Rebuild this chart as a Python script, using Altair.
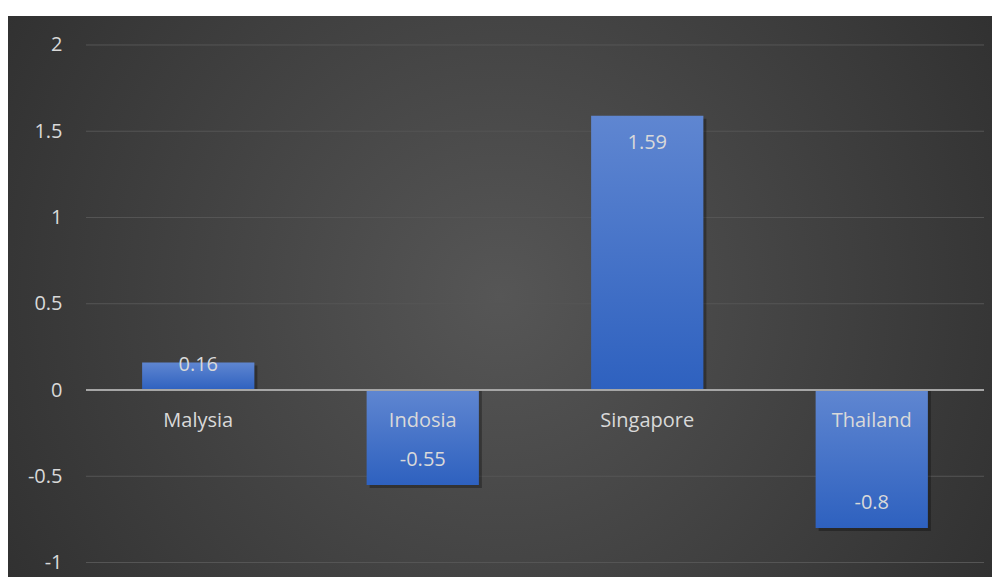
import altair as alt
import pandas as pd

countries = ["Malysia", "Indosia", "Singapore", "Thailand"]
values = [0.16, -0.55, 1.59, -0.8]
y_ticks = [-1, -0.5, 0, 0.5, 1, 1.5, 2]

df = pd.DataFrame({"country": countries, "value": values})
grid_df = pd.DataFrame({"tick": y_ticks})

W, H = 984, 561
FONT = "Open Sans"
TXT = "#d9d9d9"

yscale = alt.Scale(domain=[-1.084, 2.168], nice=False, zero=False)
xscale = alt.Scale(domain=countries, range=[78, 976], paddingInner=0.5, paddingOuter=0.25)

base = alt.Chart(df)

bg = alt.Chart(pd.DataFrame({"a": [0]})).mark_rect(
    fill={"gradient": "radial", "x1": 0.5, "y1": 0.5, "r1": 0, "x2": 0.5, "y2": 0.5, "r2": 0.75,
          "stops": [{"offset": 0, "color": "#565656"}, {"offset": 1, "color": "#262626"}]}
).encode(x=alt.value(0), x2=alt.value(W), y=alt.value(0), y2=alt.value(H))

grid = alt.Chart(grid_df).mark_rule(color="#555555", strokeWidth=1).encode(
    y=alt.Y("tick:Q", scale=yscale,
            axis=alt.Axis(values=y_ticks, offset=-78, labelPadding=24, domain=False,
                          ticks=False, grid=False, title=None, labelFontSize=20,
                          labelFont=FONT, labelColor=TXT, zindex=1,
                          labelExpr="'' + datum.value")),
    x=alt.value(78), x2=alt.value(976),
)

shadow = base.mark_bar(color="black", opacity=0.3).encode(
    x=alt.X("country:N", scale=xscale, axis=None, sort=countries),
    y=alt.Y("value:Q", scale=yscale),
    y2=alt.datum(0),
    xOffset=alt.value(3), yOffset=alt.value(3),
)

bars = base.mark_bar(
    fill={"gradient": "linear", "x1": 0, "y1": 0, "x2": 0, "y2": 1,
          "stops": [{"offset": 0, "color": "#5f86d1"}, {"offset": 1, "color": "#2e61bf"}]}
).encode(
    x=alt.X("country:N", scale=xscale, axis=None, sort=countries),
    y=alt.Y("value:Q", scale=yscale),
    y2=alt.datum(0),
)

zero = alt.Chart(pd.DataFrame({"z": [0]})).mark_rule(color="#a6a6a6", strokeWidth=2).encode(
    y=alt.Y("z:Q", scale=yscale),
    x=alt.value(78), x2=alt.value(976),
)

cat_labels = base.transform_calculate(zero="0").mark_text(
    font=FONT, fontSize=20, color=TXT, baseline="middle", dy=31).encode(
    x=alt.X("country:N", scale=xscale, sort=countries),
    y=alt.Y("zero:Q", scale=yscale),
    text="country:N",
)

lab = base.transform_calculate(
    lab="'' + datum.value",
    ly="datum.value < 0 ? datum.value : (datum.value < 0.3 ? 0 : datum.value)",
)
val_up = lab.transform_filter("datum.value >= 0.3").mark_text(
    font=FONT, fontSize=20, color=TXT, baseline="middle", dy=27).encode(
    x=alt.X("country:N", scale=xscale, sort=countries),
    y=alt.Y("ly:Q", scale=yscale),
    text="lab:N",
)
val_dn = lab.transform_filter("datum.value < 0.3").mark_text(
    font=FONT, fontSize=20, color=TXT, baseline="middle", dy=-25).encode(
    x=alt.X("country:N", scale=xscale, sort=countries),
    y=alt.Y("ly:Q", scale=yscale),
    text="lab:N",
)

chart = alt.layer(bg, grid, shadow, bars, zero, cat_labels, val_up, val_dn).properties(
    width=W, height=H,
    autosize=alt.AutoSizeParams(type="none"),
    padding={"top": 8, "left": 0, "right": 0, "bottom": 0},
    background="white",
).configure_view(stroke=None)

chart.save("out.html", embed_options={"renderer": "svg", "actions": False})
